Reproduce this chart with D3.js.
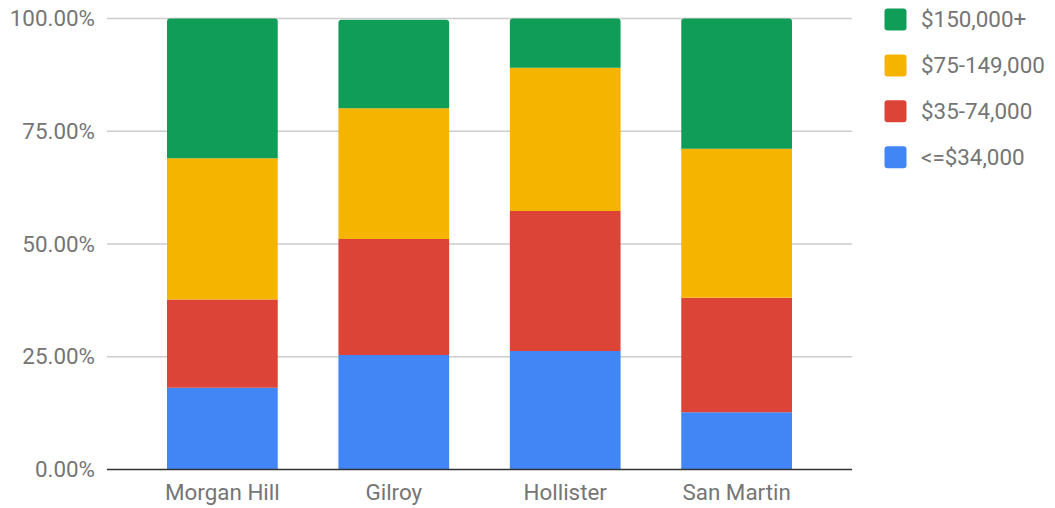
<!DOCTYPE html>
<html>
<head>
<meta charset="utf-8">
<script src="https://cdn.jsdelivr.net/npm/d3@7"></script>
<style>
  html, body { margin: 0; padding: 0; background: #fff; }
  svg { display: block; font-family: Roboto, "Noto Sans", sans-serif; }
</style>
</head>
<body>
<svg id="chart" width="1055" height="508"></svg>
<script>
// Household income distribution by city (share of households)
const categories = ["Morgan Hill", "Gilroy", "Hollister", "San Martin"];
const seriesNames = ["<=$34,000", "$35-74,000", "$75-149,000", "$150,000+"];
const seriesColors = ["#4285f4", "#db4437", "#f4b400", "#0f9d58"];
const under35 = [18.1, 25.4, 26.3, 12.7];
const from35to74 = [19.6, 25.7, 31.0, 25.4];
const from75to149 = [31.3, 29.0, 31.8, 33.0];
const over150 = [31.0, 19.6, 10.9, 28.9];
const yTicks = [0, 25, 50, 75, 100];

const seriesValues = [under35, from35to74, from75to149, over150];
const rows = categories.map((c, i) => {
  const r = { city: c };
  seriesNames.forEach((s, k) => { r[s] = seriesValues[k][i]; });
  return r;
});

const svg = d3.select("#chart");
const plot = { left: 107, right: 852, top: 18.5, bottom: 469.5 };

const x = d3.scaleBand()
  .domain(categories)
  .range([plot.left, plot.right])
  .paddingInner(0.354)
  .paddingOuter(0.35);

const y = d3.scaleLinear()
  .domain([0, 100])
  .range([plot.bottom, plot.top]);

const textColor = "#757575";
const fontSize = 22.4;

// Horizontal gridlines
svg.append("g")
  .selectAll("line")
  .data(yTicks.filter(t => t !== 0))
  .join("line")
  .attr("x1", plot.left).attr("x2", plot.right)
  .attr("y1", d => y(d)).attr("y2", d => y(d))
  .attr("stroke", "#cccccc").attr("stroke-width", 1.3);

// Y axis labels
const yAxis = d3.axisLeft(y).tickValues(yTicks).tickSize(0).tickPadding(12)
  .tickFormat(d => d.toFixed(2) + "%");
svg.append("g")
  .attr("transform", `translate(${plot.left},0)`)
  .call(yAxis)
  .call(g => g.select(".domain").remove())
  .call(g => g.selectAll("text")
    .attr("fill", textColor)
    .style("font-size", fontSize + "px")
    .style("font-family", "Roboto, sans-serif"));

// Stacked bars
const stack = d3.stack().keys(seriesNames);
const stacked = stack(rows);
const radius = 3;
const topIndex = seriesNames.length - 1;

stacked.forEach((layer, k) => {
  const g = svg.append("g").attr("fill", seriesColors[k]);
  g.selectAll("path")
    .data(layer)
    .join("path")
    .attr("d", d => {
      const x0 = x(d.data.city), w = x.bandwidth();
      const yTop = y(d[1]), yBot = y(d[0]);
      if (k === topIndex) {
        const r = radius;
        return `M${x0},${yBot}V${yTop + r}Q${x0},${yTop} ${x0 + r},${yTop}` +
               `H${x0 + w - r}Q${x0 + w},${yTop} ${x0 + w},${yTop + r}V${yBot}Z`;
      }
      return `M${x0},${yBot}V${yTop}H${x0 + w}V${yBot}Z`;
    });
});

// Baseline
svg.append("line")
  .attr("x1", plot.left).attr("x2", plot.right)
  .attr("y1", y(0)).attr("y2", y(0))
  .attr("stroke", "#333333").attr("stroke-width", 1.6);

// X axis labels
const xAxis = d3.axisBottom(x).tickSize(0).tickPadding(15);
svg.append("g")
  .attr("transform", `translate(0,${y(0)})`)
  .call(xAxis)
  .call(g => g.select(".domain").remove())
  .call(g => g.selectAll("text")
    .attr("fill", textColor)
    .style("font-size", fontSize + "px")
    .style("font-family", "Roboto, sans-serif"));

// Legend (top series first)
const legendItems = seriesNames.map((s, k) => ({ name: s, color: seriesColors[k] })).reverse();
const legend = svg.append("g").attr("transform", "translate(884.5,8.5)");
const item = legend.selectAll("g")
  .data(legendItems)
  .join("g")
  .attr("transform", (d, i) => `translate(0,${i * 45.9})`);
item.append("rect")
  .attr("width", 22).attr("height", 22)
  .attr("rx", 3).attr("ry", 3)
  .attr("fill", d => d.color);
item.append("text")
  .attr("x", 36.5).attr("y", 11)
  .attr("dy", "0.35em")
  .attr("fill", textColor)
  .style("font-size", fontSize + "px")
  .text(d => d.name);
</script>
</body>
</html>
